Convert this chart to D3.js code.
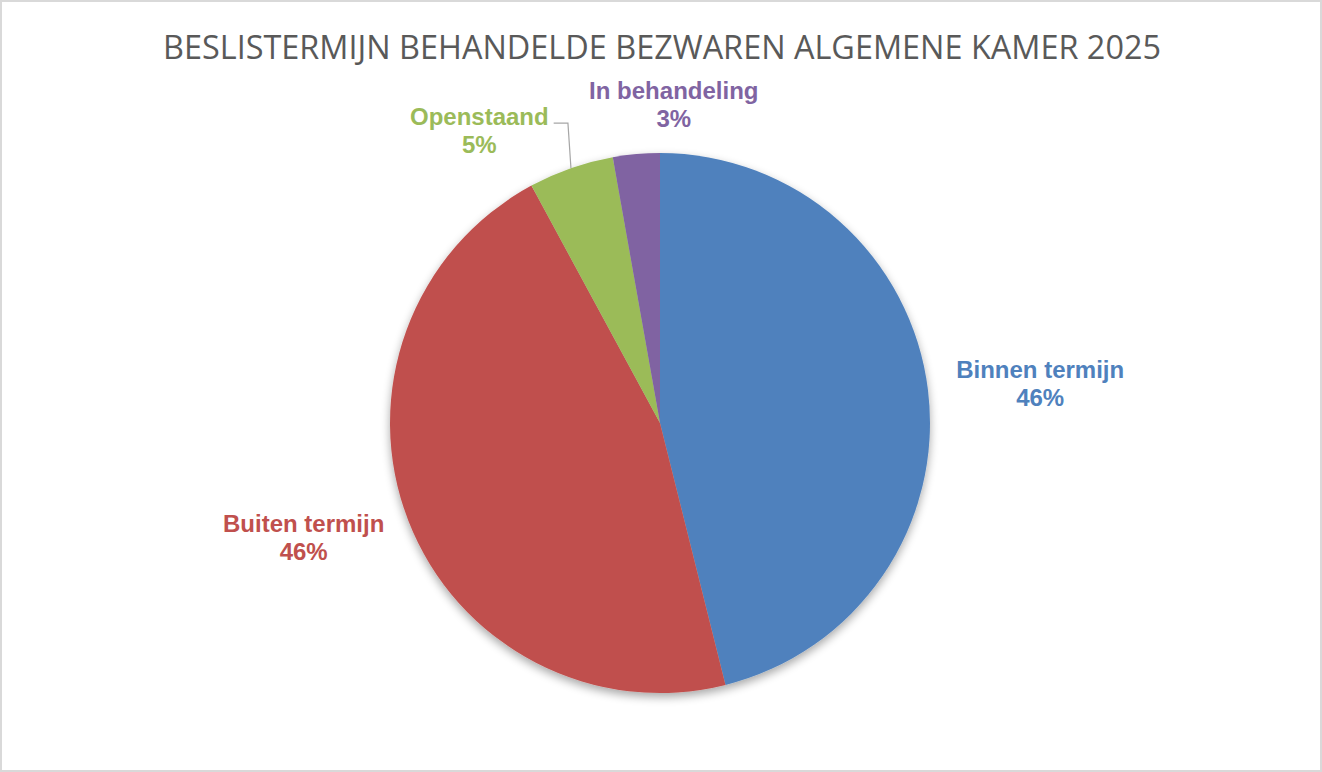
<!DOCTYPE html>
<html>
<head>
<meta charset="utf-8">
<script src="https://cdn.jsdelivr.net/npm/d3@7"></script>
<style>
  html, body { margin: 0; padding: 0; background: #fff; }
  svg { display: block; }
</style>
</head>
<body>
<svg id="chart" width="1322" height="772"></svg>
<script>
const title = "BESLISTERMIJN BEHANDELDE BEZWAREN ALGEMENE KAMER 2025";
const categories = ["Binnen termijn", "Buiten termijn", "Openstaand", "In behandeling"];
const values = [46.1, 46.0, 5.1, 2.8];
const colors = ["#4F81BD", "#C0504D", "#9BBB59", "#8064A2"];

// label nudges relative to the computed outside position (like Excel's manual drags)
const labelNudge = {
    "Binnen termijn": [5, 7],
    "Buiten termijn": [-4, -22],
    "Openstaand": [-56, 65],
    "In behandeling": [47, 59]
};

const svg = d3.select("#chart");
const W = 1322, H = 772;
const cx = 660, cy = 423, r = 270;

// frame
svg.append("rect")
    .attr("x", 1).attr("y", 1)
    .attr("width", W - 2).attr("height", H - 2)
    .attr("fill", "#fff")
    .attr("stroke", "#d9d9d9")
    .attr("stroke-width", 2);

// title
svg.append("text")
    .attr("x", cx + 2)
    .attr("y", 59)
    .attr("text-anchor", "middle")
    .attr("font-family", "'Open Sans', sans-serif")
    .attr("font-size", 32)
    .attr("fill", "#595959")
    .attr("textLength", 998)
    .attr("lengthAdjust", "spacingAndGlyphs")
    .text(title);

// soft shadow under the pie
const defs = svg.append("defs");
const f = defs.append("filter").attr("id", "shadow")
    .attr("x", "-20%").attr("y", "-20%").attr("width", "140%").attr("height", "140%");
f.append("feGaussianBlur").attr("in", "SourceAlpha").attr("stdDeviation", 5).attr("result", "b");
f.append("feOffset").attr("in", "b").attr("dx", 0).attr("dy", 4).attr("result", "o");
f.append("feComponentTransfer").attr("in", "o").attr("result", "s")
    .append("feFuncA").attr("type", "linear").attr("slope", 0.35);
const merge = f.append("feMerge");
merge.append("feMergeNode").attr("in", "s");
merge.append("feMergeNode").attr("in", "SourceGraphic");

const data = categories.map((c, i) => ({ name: c, value: values[i], color: colors[i] }));
const total = d3.sum(values);

const pie = d3.pie().value(d => d.value).sort(null);
const arcs = pie(data);
const arc = d3.arc().innerRadius(0).outerRadius(r);

const g = svg.append("g").attr("transform", `translate(${cx},${cy})`);

g.append("g").attr("filter", "url(#shadow)")
    .selectAll("path")
    .data(arcs)
    .join("path")
    .attr("d", arc)
    .attr("fill", d => d.data.color)
    .attr("stroke", "none");

// labels
const labelR = r * 1.4;
const pos = d => {
    const a = (d.startAngle + d.endAngle) / 2;
    const n = labelNudge[d.data.name] || [0, 0];
    return [Math.sin(a) * labelR + n[0], -Math.cos(a) * labelR + n[1]];
};

const labels = g.append("g")
    .selectAll("text")
    .data(arcs)
    .join("text")
    .attr("text-anchor", "middle")
    .attr("font-family", "'Liberation Sans', Arial, sans-serif")
    .attr("font-weight", "bold")
    .attr("font-size", 24)
    .attr("fill", d => d.data.color)
    .attr("transform", d => `translate(${pos(d)})`);

labels.append("tspan").attr("x", 0).attr("dy", -6).text(d => d.data.name);
labels.append("tspan").attr("x", 0).attr("dy", 28)
    .text(d => Math.round(d.data.value / total * 100) + "%");

// leader line for Openstaand
const open = arcs.find(d => d.data.name === "Openstaand");
const oa = (open.startAngle + open.endAngle) / 2;
const ex = Math.sin(oa) * r, ey = -Math.cos(oa) * r;
const lp = pos(open);
const node = labels.filter(d => d.data.name === "Openstaand").select("tspan").node();
const lw = node.getComputedTextLength();
const sx = lp[0] + lw / 2 + 5, sy = lp[1] - 6 - 2;
g.append("path")
    .attr("d", `M${sx},${sy}H${ex - 3}L${ex},${ey}`)
    .attr("fill", "none")
    .attr("stroke", "#a6a6a6")
    .attr("stroke-width", 1.2);
</script>
</body>
</html>
